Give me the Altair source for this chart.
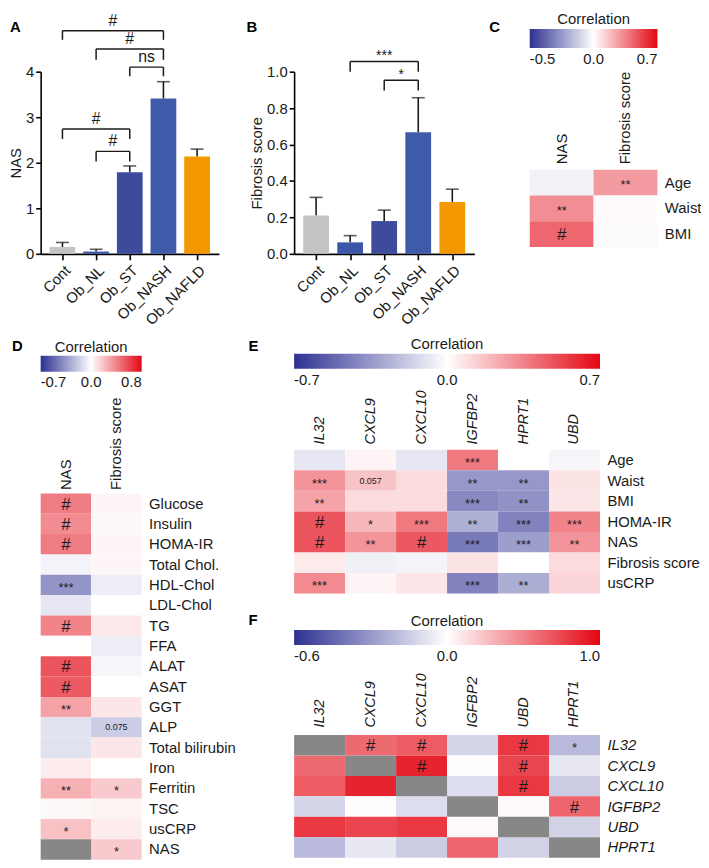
import json
import altair as alt
import pandas as pd

FONT = "Liberation Sans"
INK = "#1a1a1a"
NEG = "#2e3192"
MID = "#ffffff"
POS = "#e30613"
NA_GREY = "#878787"

# ---------------- Panels A and B (bar charts) ----------------
groups = ["Cont", "Ob_NL", "Ob_ST", "Ob_NASH", "Ob_NAFLD"]
bar_colors = ["#c4c4c4", "#3c57a7", "#3e4b9d", "#3f5aa8", "#f39800"]

nas_mean = [0.15, 0.05, 1.79, 3.41, 2.14]
nas_err = [0.10, 0.05, 0.14, 0.37, 0.16]
nas_ticks = [0, 1, 2, 3, 4]

fib_mean = [0.21, 0.063, 0.18, 0.667, 0.285]
fib_err = [0.10, 0.037, 0.06, 0.19, 0.07]
fib_ticks = [0.0, 0.2, 0.4, 0.6, 0.8, 1.0]

nas_br_from = [0, 1, 2, 0, 1]
nas_br_to = [3, 3, 3, 2, 2]
nas_br_top = [4.90, 4.50, 4.10, 2.74, 2.25]
nas_br_low = [4.70, 4.26, 3.90, 2.52, 2.03]
nas_br_text = ["#", "#", "ns", "#", "#"]

fib_br_from = [1, 2]
fib_br_to = [3, 3]
fib_br_top = [1.056, 0.953]
fib_br_low = [1.000, 0.897]
fib_br_text = ["***", "*"]

# ---------------- Panel C ----------------
c_cols = ["NAS", "Fibrosis score"]
c_rows = ["Age", "Waist", "BMI"]
c_nas = [-0.03, 0.32, 0.43]
c_fib = [0.28, 0.01, -0.01]
c_nas_sig = ["", "**", "#"]
c_fib_sig = ["**", "", ""]
c_limits = [-0.5, 0.7]

# ---------------- Panel D ----------------
d_cols = ["NAS", "Fibrosis score"]
d_rows = ["Glucose", "Insulin", "HOMA-IR", "Total Chol.", "HDL-Chol", "LDL-Chol", "TG",
          "FFA", "ALAT", "ASAT", "GGT", "ALP", "Total bilirubin", "Iron", "Ferritin",
          "TSC", "usCRP", "NAS"]
d_nas = [0.42, 0.37, 0.42, -0.04, -0.36, -0.08, 0.40, 0.0, 0.55, 0.53, 0.30, -0.10,
         -0.10, 0.06, 0.25, 0.02, 0.20, None]
d_fib = [0.03, 0.02, 0.03, 0.03, -0.06, 0.0, 0.07, -0.06, -0.03, 0.0, 0.08, -0.17,
         0.08, 0.0, 0.17, 0.04, 0.06, 0.17]
d_nas_sig = ["#", "#", "#", "", "***", "", "#", "", "#", "#", "**", "", "", "", "**",
             "", "*", ""]
d_fib_sig = ["", "", "", "", "", "", "", "", "", "", "", "0.075", "", "", "*", "", "",
             "*"]
d_limits = [-0.7, 0.8]

# ---------------- Panel E ----------------
e_cols = ["IL32", "CXCL9", "CXCL10", "IGFBP2", "HPRT1", "UBD"]
e_rows = ["Age", "Waist", "BMI", "HOMA-IR", "NAS", "Fibrosis score", "usCRP"]
e_il32 = [-0.08, 0.30, 0.26, 0.48, 0.48, 0.06, 0.33]
e_cxcl9 = [0.03, 0.17, 0.10, 0.20, 0.30, -0.05, 0.03]
e_cxcl10 = [-0.08, 0.10, 0.10, 0.38, 0.47, -0.04, 0.07]
e_igfbp2 = [0.38, -0.35, -0.40, -0.27, -0.45, 0.08, -0.42]
e_hprt1 = [0.0, -0.35, -0.37, -0.42, -0.33, 0.0, -0.28]
e_ubd = [-0.03, 0.08, 0.07, 0.35, 0.30, 0.10, 0.12]
e_il32_sig = ["", "***", "**", "#", "#", "", "***"]
e_cxcl9_sig = ["", "0.057", "", "*", "**", "", ""]
e_cxcl10_sig = ["", "", "", "***", "#", "", ""]
e_igfbp2_sig = ["***", "**", "***", "**", "***", "", "***"]
e_hprt1_sig = ["", "**", "**", "***", "***", "", "**"]
e_ubd_sig = ["", "", "", "***", "**", "", ""]
e_limits = [-0.7, 0.7]

# ---------------- Panel F ----------------
f_genes = ["IL32", "CXCL9", "CXCL10", "IGFBP2", "UBD", "HPRT1"]
f_il32 = [None, 0.60, 0.66, -0.12, 0.80, -0.20]
f_cxcl9 = [0.60, None, 0.88, 0.01, 0.75, -0.07]
f_cxcl10 = [0.66, 0.88, None, -0.10, 0.80, -0.15]
f_igfbp2 = [-0.12, 0.01, -0.10, None, 0.02, 0.62]
f_ubd = [0.80, 0.75, 0.80, 0.02, None, -0.13]
f_hprt1 = [-0.20, -0.07, -0.15, 0.62, -0.13, None]
f_il32_sig = ["", "", "", "", "", ""]
f_cxcl9_sig = ["#", "", "", "", "", ""]
f_cxcl10_sig = ["#", "#", "", "", "", ""]
f_igfbp2_sig = ["", "", "", "", "", ""]
f_ubd_sig = ["#", "#", "#", "", "", ""]
f_hprt1_sig = ["*", "", "", "#", "", ""]
f_limits = [-0.6, 1.0]


def label_text(text, dx, dy, size=15, weight="bold", align="left"):
    return alt.Chart(pd.DataFrame({"t": [text]})).mark_text(
        fontSize=size, fontWeight=weight, font=FONT, color="black" if weight == "bold" else INK,
        align=align, baseline="alphabetic").encode(text="t:N", x=alt.value(dx), y=alt.value(dy))


def bar_panel(means, errs, ytitle, yticks, yfmt, bfrom, bto, btop, blow, btext,
              width, letter, ldx, ldy):
    n = len(groups)
    df = pd.DataFrame({"idx": list(range(n)), "group": groups, "mean": means, "err": errs})
    br = pd.DataFrame({"a": bfrom, "b": bto, "top": btop, "low": blow, "label": btext})
    xscale = alt.Scale(domain=[-0.5, n - 0.5], nice=False, zero=False)
    xaxis = alt.Axis(values=list(range(n)), labelExpr=json.dumps(groups) + "[datum.value]",
                     labelAngle=315, title=None, grid=False, domainColor="black",
                     domainWidth=1.6, tickColor="black", tickWidth=1.6, tickSize=6,
                     labelPadding=3, labelFontSize=15, labelColor=INK, labelOverlap=False)
    yscale = alt.Scale(domain=[yticks[0], yticks[-1]], nice=False, zero=True)
    yaxis = alt.Axis(values=yticks, format=yfmt, title=ytitle, grid=False,
                     domainColor="black", domainWidth=1.6, tickColor="black",
                     tickWidth=1.6, tickSize=5, labelPadding=2, labelFontSize=15,
                     labelColor=INK, titleFontSize=15, titleFontWeight="normal",
                     titlePadding=2, titleColor=INK)

    def X(f):
        return alt.X(f, type="quantitative", scale=xscale, axis=xaxis)

    def Y(f):
        return alt.Y(f, type="quantitative", scale=yscale, axis=yaxis)

    base = alt.Chart(df).transform_calculate(hi="datum.mean + datum.err")
    err = base.mark_rule(color=INK, strokeWidth=1.6).encode(x=X("idx"), y=Y("mean"), y2="hi:Q")
    bars = base.mark_bar(orient="vertical", size=26).encode(
        x=X("idx"), y=Y("mean"), y2=alt.datum(0),
        color=alt.Color("group:N", scale=alt.Scale(domain=groups, range=bar_colors), legend=None))
    cap = base.mark_tick(orient="horizontal", size=13, thickness=1.6, color=INK).encode(
        x=X("idx"), y=Y("hi"))
    bb = alt.Chart(br)
    hline = bb.mark_rule(color=INK, strokeWidth=1.5).encode(x=X("a"), x2="b:Q", y=Y("top"))
    leg1 = bb.mark_rule(color=INK, strokeWidth=1.5).encode(x=X("a"), y=Y("low"), y2="top:Q")
    leg2 = bb.mark_rule(color=INK, strokeWidth=1.5).encode(x=X("b"), y=Y("low"), y2="top:Q")
    lb = bb.transform_calculate(mid="(datum.a + datum.b) / 2")
    lab = lb.transform_filter("indexof(datum.label, '*') < 0").mark_text(
        fontSize=16, dy=-5, baseline="alphabetic", color=INK, font=FONT).encode(
        x=X("mid"), y=Y("top"), text="label:N")
    star = lb.transform_filter("indexof(datum.label, '*') >= 0").mark_text(
        fontSize=14, dy=-1, baseline="alphabetic", color=INK, font=FONT).encode(
        x=X("mid"), y=Y("top"), text="label:N")
    return alt.layer(err, bars, cap, hline, leg1, leg2, lab, star,
                     label_text(letter, ldx, ldy)).properties(width=width, height=184)


def heat_panel(cols, rows, col_vals, col_sigs, limits, width, height, grad_y, title_y,
               leg_thick, letter, ldx, ldy, col_italic, row_italic, col_size, col_pad,
               y_range=None, x_offset=0):
    recs = []
    for c, vals, sigs in zip(cols, col_vals, col_sigs):
        for r, v, s in zip(rows, vals, sigs):
            recs.append({"col": c, "row": r, "r": v, "sig": s})
    df = pd.DataFrame(recs)
    vmin, vmax = limits
    xaxis = alt.Axis(orient="top", labelAngle=270, labelAlign="left", labelBaseline="middle",
                     ticks=False, domain=False, title=None, labelPadding=col_pad,
                     labelFontSize=col_size, labelColor=INK,
                     labelFontStyle="italic" if col_italic else "normal", offset=x_offset)
    yscale_kw = dict(domain=rows, paddingInner=0, paddingOuter=0)
    if y_range:
        yscale_kw["range"] = y_range
    yaxis = alt.Axis(orient="right", ticks=False, domain=False, title=None, labelPadding=7,
                     labelFontSize=15, labelColor=INK,
                     labelFontStyle="italic" if row_italic else "normal")
    X = alt.X("col:N", scale=alt.Scale(domain=cols, paddingInner=0, paddingOuter=0), axis=xaxis)
    Y = alt.Y("row:N", scale=alt.Scale(**yscale_kw), axis=yaxis)
    texpr = "datum.r < 0 ? datum.r / %s : datum.r / %s" % (-vmin, vmax)
    lab_expr = "datum.value < 0 ? '%.1f' : (datum.value > 0 ? '%.1f' : '0.0')" % (vmin, vmax)
    legend = alt.Legend(title=None, orient="none", legendX=0, legendY=grad_y,
                        direction="horizontal", gradientLength=width,
                        gradientThickness=leg_thick, values=[-1, 0, 1], labelExpr=lab_expr,
                        labelFont=FONT, labelFontSize=15, labelColor=INK, padding=0,
                        labelOffset=4, gradientStrokeWidth=0, labelOverlap=False)
    base = alt.Chart(df)
    cells = base.transform_filter("isValid(datum.r)").transform_calculate(t=texpr).mark_rect().encode(
        x=X, y=Y,
        color=alt.Color("t:Q", scale=alt.Scale(domain=[-1, 0, 1], range=[NEG, MID, POS],
                                                interpolate="rgb"), legend=legend))
    na = base.transform_filter("!isValid(datum.r)").mark_rect(color=NA_GREY).encode(x=X, y=Y)
    hashes = base.transform_filter("datum.sig == '#'").mark_text(
        fontSize=17, baseline="middle", color=INK, font=FONT, dy=1).encode(x=X, y=Y, text="sig:N")
    stars = base.transform_filter("indexof(datum.sig, '*') >= 0").mark_text(
        fontSize=13, baseline="middle", color=INK, font=FONT, dy=3).encode(x=X, y=Y, text="sig:N")
    nums = base.transform_filter(
        "datum.sig != '' && datum.sig != '#' && indexof(datum.sig, '*') < 0").mark_text(
        fontSize=9, baseline="middle", color=INK, font=FONT).encode(x=X, y=Y, text="sig:N")
    return alt.layer(cells, na, hashes, stars, nums,
                     label_text("Correlation", width / 2, title_y, 15, "normal", "center"),
                     label_text(letter, ldx, ldy)).properties(width=width, height=height)


def spacer(w):
    return alt.Chart(pd.DataFrame({"s": [0]})).mark_point(opacity=0).encode(
        x=alt.value(0), y=alt.value(0)).properties(width=w, height=10)


A = bar_panel(nas_mean, nas_err, "NAS", nas_ticks, "d", nas_br_from, nas_br_to,
              nas_br_top, nas_br_low, nas_br_text, 180, "A", -31, -40)
B = bar_panel(fib_mean, fib_err, "Fibrosis score", fib_ticks, ".1f", fib_br_from, fib_br_to,
              fib_br_top, fib_br_low, fib_br_text, 182, "B", -48, -40)
C = heat_panel(c_cols, c_rows, [c_nas, c_fib], [c_nas_sig, c_fib_sig], c_limits, 129, 177,
               -43, -48, 19, "C", -41, -40, False, False, 15, 6,
               y_range=[99, 177], x_offset=-99)
# D shares its row origin with E (E's plot top); its own cells start 44 px lower
D = heat_panel(d_cols, d_rows, [d_nas, d_fib], [d_nas_sig, d_fib_sig], d_limits, 102, 414,
               -95, -99, 16, "D", -29, -100, False, False, 15, 4,
               y_range=[44, 414], x_offset=-44)
E = heat_panel(e_cols, e_rows, [e_il32, e_cxcl9, e_cxcl10, e_igfbp2, e_hprt1, e_ubd],
               [e_il32_sig, e_cxcl9_sig, e_cxcl10_sig, e_igfbp2_sig, e_hprt1_sig, e_ubd_sig],
               e_limits, 309, 145, -97, -102, 15, "E", -46, -100, True, False, 14.5, 6)
F = heat_panel(f_genes, f_genes, [f_il32, f_cxcl9, f_cxcl10, f_igfbp2, f_ubd, f_hprt1],
               [f_il32_sig, f_cxcl9_sig, f_cxcl10_sig, f_igfbp2_sig, f_ubd_sig, f_hprt1_sig],
               f_limits, 309, 124, -106, -110, 15, "F", -46, -111, True, True, 14.5, 8)

top = alt.hconcat(A, spacer(76), B, spacer(56), C, spacing=0, bounds="flush").resolve_scale(
    color="independent")
ef = alt.vconcat(E, F, spacing=20).resolve_scale(color="independent")
bottom = alt.hconcat(D, ef, spacing=13).resolve_scale(color="independent")
chart = alt.vconcat(top, bottom, spacing=9).resolve_scale(color="independent").properties(
    padding=0
).configure(font=FONT).configure_view(strokeWidth=0).configure_axis(
    labelFont=FONT, titleFont=FONT, grid=False
).configure_legend(gradientHorizontalMaxLength=400)

chart.save("out.html", embed_options={"renderer": "svg", "actions": False})
